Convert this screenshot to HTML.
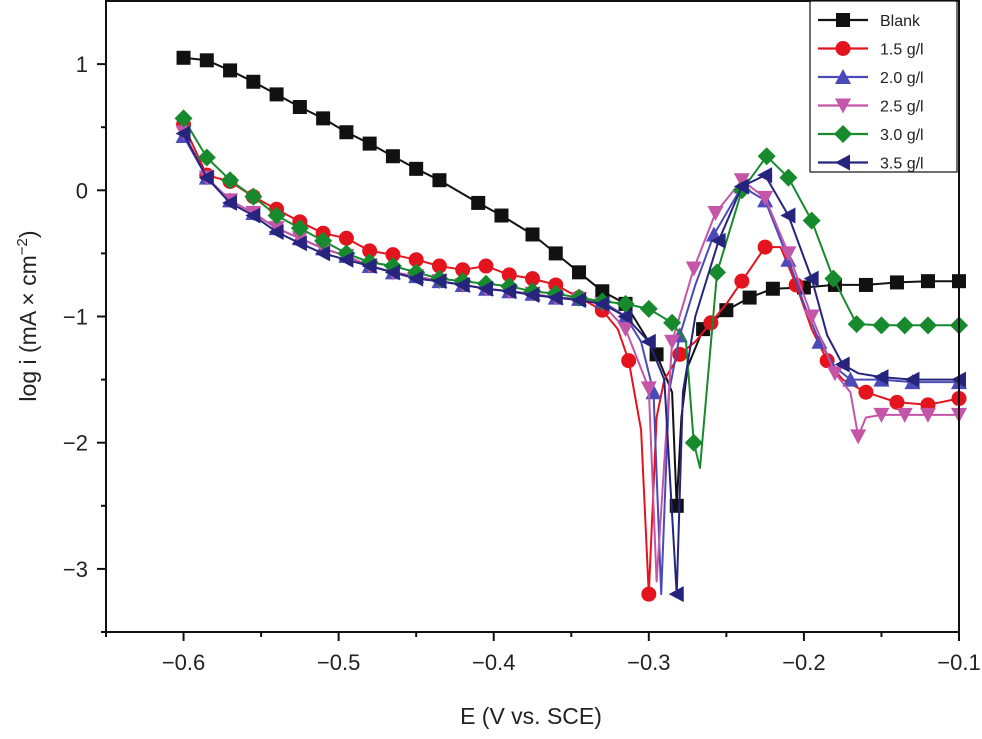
<!DOCTYPE html>
<html><head><meta charset="utf-8"><style>
body{margin:0;background:#fff;}
svg text{font-family:"Liberation Sans",sans-serif;fill:#222;}
</style></head><body>
<svg id="chart" width="982" height="734" xmlns="http://www.w3.org/2000/svg">
<g id="plot"></g>
<g id="axes"></g>
<g id="legend"></g>
<text x="531" y="724" font-size="23" text-anchor="middle">E (V vs. SCE)</text>
<text transform="translate(36,316) rotate(-90)" font-size="23" text-anchor="middle">log i (mA × cm<tspan dy="-9" font-size="15">−2</tspan><tspan dy="9">)</tspan></text>
</svg>
<script>
const xTicks=[-0.6,-0.5,-0.4,-0.3,-0.2,-0.1];
const xTickLabels=["−0.6","−0.5","−0.4","−0.3","−0.2","−0.1"];
const yTicks=[1,0,-1,-2,-3];
const yTickLabels=["1","0","−1","−2","−3"];
const seriesNames=["Blank","1.5 g/l","2.0 g/l","2.5 g/l","3.0 g/l","3.5 g/l"];
const blankE=[-0.6,-0.585,-0.57,-0.555,-0.54,-0.525,-0.51,-0.495,-0.48,-0.465,-0.45,-0.435,-0.41,-0.395,-0.375,-0.36,-0.345,-0.33,-0.315,-0.305,-0.295,-0.285,-0.282,-0.279,-0.275,-0.265,-0.25,-0.235,-0.22,-0.2,-0.18,-0.16,-0.14,-0.12,-0.1];
const blankV=[1.05,1.03,0.95,0.86,0.76,0.66,0.57,0.46,0.37,0.27,0.17,0.08,-0.1,-0.2,-0.35,-0.5,-0.65,-0.8,-0.9,-1.1,-1.3,-1.6,-2.5,-1.8,-1.4,-1.1,-0.95,-0.85,-0.78,-0.77,-0.75,-0.75,-0.73,-0.72,-0.72];
const redE=[-0.6,-0.585,-0.57,-0.555,-0.54,-0.525,-0.51,-0.495,-0.48,-0.465,-0.45,-0.435,-0.42,-0.405,-0.39,-0.375,-0.36,-0.345,-0.33,-0.32,-0.313,-0.305,-0.3,-0.295,-0.29,-0.28,-0.27,-0.26,-0.25,-0.24,-0.225,-0.215,-0.205,-0.195,-0.185,-0.175,-0.16,-0.14,-0.12,-0.1];
const redV=[0.52,0.12,0.07,-0.05,-0.15,-0.25,-0.34,-0.38,-0.48,-0.51,-0.55,-0.6,-0.63,-0.6,-0.67,-0.7,-0.75,-0.85,-0.95,-1.1,-1.35,-1.9,-3.2,-1.8,-1.5,-1.3,-1.2,-1.05,-0.9,-0.72,-0.45,-0.45,-0.75,-1.1,-1.35,-1.5,-1.6,-1.68,-1.7,-1.65];
const blueE=[-0.6,-0.585,-0.57,-0.555,-0.54,-0.525,-0.51,-0.495,-0.48,-0.465,-0.45,-0.435,-0.42,-0.405,-0.39,-0.375,-0.36,-0.345,-0.33,-0.315,-0.305,-0.297,-0.292,-0.287,-0.28,-0.27,-0.258,-0.24,-0.225,-0.21,-0.2,-0.19,-0.18,-0.17,-0.15,-0.13,-0.1];
const blueV=[0.43,0.1,-0.08,-0.18,-0.3,-0.38,-0.46,-0.52,-0.6,-0.65,-0.68,-0.72,-0.75,-0.78,-0.8,-0.82,-0.85,-0.86,-0.88,-1.0,-1.2,-1.6,-3.2,-1.6,-1.15,-0.75,-0.35,0.03,-0.08,-0.55,-0.9,-1.2,-1.4,-1.5,-1.5,-1.52,-1.52];
const pinkE=[-0.6,-0.585,-0.57,-0.555,-0.54,-0.525,-0.51,-0.495,-0.48,-0.465,-0.45,-0.435,-0.42,-0.405,-0.39,-0.375,-0.36,-0.345,-0.33,-0.315,-0.3,-0.295,-0.285,-0.271,-0.257,-0.24,-0.225,-0.21,-0.195,-0.18,-0.17,-0.165,-0.16,-0.15,-0.135,-0.12,-0.1];
const pinkV=[0.46,0.1,-0.08,-0.18,-0.3,-0.38,-0.46,-0.52,-0.6,-0.65,-0.68,-0.72,-0.75,-0.78,-0.8,-0.82,-0.85,-0.86,-0.9,-1.1,-1.57,-3.1,-1.2,-0.62,-0.18,0.08,-0.06,-0.5,-1.0,-1.45,-1.6,-1.95,-1.8,-1.78,-1.78,-1.78,-1.78];
const greenE=[-0.6,-0.585,-0.57,-0.555,-0.54,-0.525,-0.51,-0.495,-0.48,-0.465,-0.45,-0.435,-0.42,-0.405,-0.39,-0.375,-0.36,-0.345,-0.33,-0.315,-0.3,-0.285,-0.276,-0.271,-0.267,-0.256,-0.24,-0.224,-0.21,-0.195,-0.181,-0.166,-0.15,-0.135,-0.12,-0.1];
const greenV=[0.57,0.26,0.08,-0.05,-0.2,-0.3,-0.4,-0.5,-0.57,-0.6,-0.65,-0.7,-0.72,-0.74,-0.76,-0.8,-0.82,-0.85,-0.88,-0.9,-0.94,-1.05,-1.2,-2.0,-2.2,-0.65,0.0,0.27,0.1,-0.24,-0.7,-1.06,-1.07,-1.07,-1.07,-1.07];
const navyE=[-0.6,-0.585,-0.57,-0.555,-0.54,-0.525,-0.51,-0.495,-0.48,-0.465,-0.45,-0.435,-0.42,-0.405,-0.39,-0.375,-0.36,-0.345,-0.33,-0.315,-0.3,-0.29,-0.282,-0.278,-0.27,-0.255,-0.24,-0.225,-0.21,-0.195,-0.185,-0.175,-0.165,-0.15,-0.13,-0.1];
const navyV=[0.45,0.1,-0.1,-0.2,-0.33,-0.42,-0.5,-0.55,-0.6,-0.65,-0.7,-0.72,-0.75,-0.78,-0.8,-0.83,-0.85,-0.87,-0.9,-1.0,-1.2,-1.5,-3.2,-1.6,-1.0,-0.4,0.03,0.12,-0.2,-0.7,-1.15,-1.38,-1.45,-1.48,-1.5,-1.5];

const NS="http://www.w3.org/2000/svg";
const L=106,R=959,T=1,B=632;
const xMin=-0.65,xMax=-0.1,yMin=-3.5,yMax=1.5;
const xs=v=>L+(v-xMin)/(xMax-xMin)*(R-L);
const ys=v=>B-(v-yMin)/(yMax-yMin)*(B-T);
function mk(tag,attrs,parent){const e=document.createElementNS(NS,tag);for(const k in attrs)e.setAttribute(k,attrs[k]);parent.appendChild(e);return e;}
const plot=document.getElementById('plot'),axes=document.getElementById('axes'),legend=document.getElementById('legend');

function marker(shape,cx,cy,color,parent){
  const s=7;let el;
  if(shape==='square')el=mk('rect',{x:cx-s,y:cy-s,width:2*s,height:2*s,fill:color},parent);
  else if(shape==='circle')el=mk('circle',{cx:cx,cy:cy,r:s+0.5,fill:color},parent);
  else if(shape==='up')el=mk('polygon',{points:`${cx},${cy-s-1} ${cx+s+1},${cy+s} ${cx-s-1},${cy+s}`,fill:color},parent);
  else if(shape==='down')el=mk('polygon',{points:`${cx},${cy+s+1} ${cx+s+1},${cy-s} ${cx-s-1},${cy-s}`,fill:color},parent);
  else if(shape==='diamond')el=mk('polygon',{points:`${cx},${cy-s-2} ${cx+s+2},${cy} ${cx},${cy+s+2} ${cx-s-2},${cy}`,fill:color},parent);
  else el=mk('polygon',{points:`${cx-s-1},${cy} ${cx+s},${cy-s-1} ${cx+s},${cy+s+1}`,fill:color},parent);
  return el;
}
const series=[
 {E:blankE,V:blankV,c:"#111",m:"square"},
 {E:redE,V:redV,c:"#e3141e",m:"circle"},
 {E:blueE,V:blueV,c:"#4a4ab8",m:"up"},
 {E:pinkE,V:pinkV,c:"#c455a8",m:"down"},
 {E:greenE,V:greenV,c:"#178a2e",m:"diamond"},
 {E:navyE,V:navyV,c:"#27247e",m:"left"}
];
series.forEach((s,i)=>{
  const g=mk('g',{},plot);
  
  
  const d=s.E.map((e,j)=>(j?'L':'M')+xs(e).toFixed(1)+','+ys(s.V[j]).toFixed(1)).join(' ');
  const p=mk('path',{d:d,fill:'none',stroke:s.c,'stroke-width':2,'stroke-linejoin':'round'},g);
  
  
  let last=-9;
  s.E.forEach((e,j)=>{
    if(e-last<0.012 && j!==s.E.length-1)return;
    last=e;
    const m=marker(s.m,xs(e),ys(s.V[j]),s.c,g);
    
    
  });
});
const fr=mk('rect',{x:L,y:T,width:R-L,height:B-T,fill:'none',stroke:'#111','stroke-width':2},axes);


xTicks.forEach((v,i)=>{
  const t=mk('line',{x1:xs(v),x2:xs(v),y1:B,y2:B+9,stroke:'#111','stroke-width':2},axes);
  
  
  const m=mk('line',{x1:xs(v-0.05),x2:xs(v-0.05),y1:B,y2:B+5,stroke:'#111','stroke-width':2},axes);
  
  
  const tx=mk('text',{x:xs(v),y:B+38,'font-size':22,'text-anchor':'middle'},axes);
  tx.textContent=xTickLabels[i];
  
  
});
yTicks.forEach((v,i)=>{
  const t=mk('line',{x1:L-9,x2:L,y1:ys(v),y2:ys(v),stroke:'#111','stroke-width':2},axes);
  
  
  const m=mk('line',{x1:L-5,x2:L,y1:ys(v-0.5),y2:ys(v-0.5),stroke:'#111','stroke-width':2},axes);
  
  
  const tx=mk('text',{x:L-18,y:ys(v)+8,'font-size':22,'text-anchor':'end'},axes);
  tx.textContent=yTickLabels[i];
  
  
});
const lb=mk('rect',{x:810,y:1,width:147,height:171,fill:'#fff',stroke:'#111','stroke-width':1.2},legend);


series.forEach((s,i)=>{
  const y=20+i*28.5;
  const g=mk('g',{},legend);
  
  
  mk('line',{x1:818,x2:868,y1:y,y2:y,stroke:s.c,'stroke-width':2.2},g);
  marker(s.m,843,y,s.c,g);
  const t=mk('text',{x:880,y:y+6,'font-size':16},g);
  t.textContent=seriesNames[i];
});
</script>
</body></html>
